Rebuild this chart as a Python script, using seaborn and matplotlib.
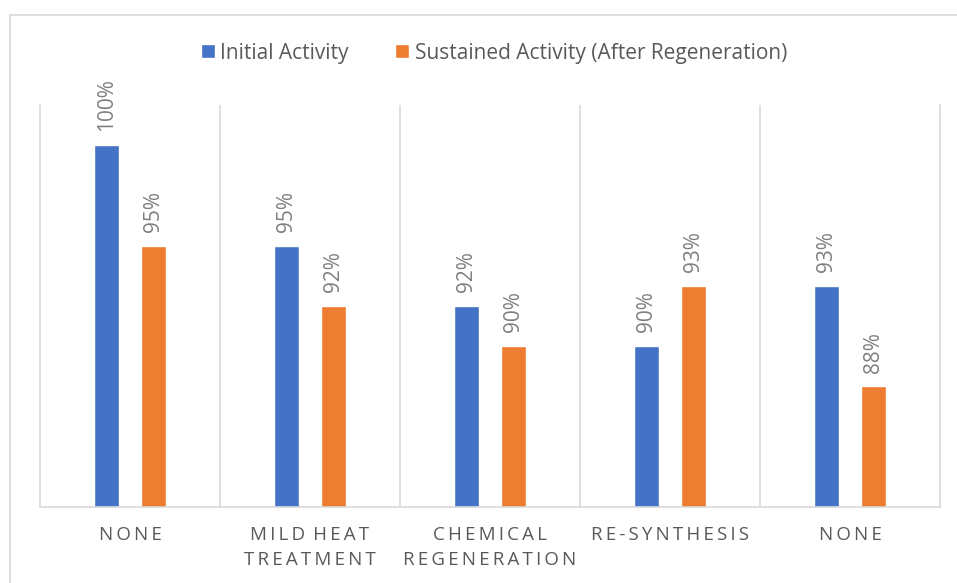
import matplotlib
matplotlib.use("Agg")
import matplotlib.pyplot as plt
from matplotlib.lines import Line2D
import pandas as pd
import seaborn as sns

# Chart data
CATEGORIES = ["None", "Mild Heat\nTreatment", "Chemical\nRegeneration", "Re-Synthesis", "None"]
INITIAL = [1.00, 0.95, 0.92, 0.90, 0.93]
SUSTAINED = [0.95, 0.92, 0.90, 0.93, 0.88]
SERIES = ["Initial Activity", "Sustained Activity (After Regeneration)"]
COLORS = ["#4472C4", "#ED7D31"]
Y_MIN, Y_MAX = 0.82, 1.02


def spaced(label):
    # Excel draws these category labels in caps with wide letter spacing
    lines = []
    for line in label.upper().split("\n"):
        words = ["\u2009".join(word) for word in line.split(" ")]
        lines.append(" \u2009".join(words))
    return "\n".join(lines)


def main():
    sns.set_theme(style="white")
    plt.rcParams["font.family"] = ["Open Sans", "DejaVu Sans"]

    # seaborn groups on x, so the two "None" groups need distinct keys
    keys = [f"c{i}" for i in range(len(CATEGORIES))]
    df = pd.DataFrame({
        "key": keys * 2,
        "series": [SERIES[0]] * len(keys) + [SERIES[1]] * len(keys),
        "value": INITIAL + SUSTAINED,
    })

    fig = plt.figure(figsize=(9.57, 5.83), dpi=100)
    ax = fig.add_axes([40 / 957, 1 - 507 / 583, 900 / 957, 402 / 583])

    sns.barplot(data=df, x="key", y="value", hue="series", order=keys,
                hue_order=SERIES, palette=COLORS, width=0.52, gap=0.465,
                saturation=1, ax=ax, legend=True)

    for container in ax.containers:
        ax.bar_label(container, fmt="{:.0%}", rotation=90, padding=10,
                     color="#7F7F7F", fontsize=15)

    ax.set_ylim(Y_MIN, Y_MAX)
    ax.set_xlim(-0.5, len(keys) - 0.5)
    ax.set_yticks([])
    ax.set_xlabel("")
    ax.set_ylabel("")
    ax.set_xticks(range(len(keys)))
    ax.set_xticklabels([spaced(c) for c in CATEGORIES], color="#595959",
                       fontsize=13.5, linespacing=1.5, va="top")
    ax.tick_params(axis="x", length=0, pad=14)

    ax.set_xticks([i + 0.5 for i in range(len(keys) - 1)], minor=True)
    ax.tick_params(axis="x", which="minor", length=0)
    ax.grid(True, axis="x", which="minor", color="#D9D9D9", linewidth=1.2)
    ax.grid(False, axis="x", which="major")
    ax.grid(False, axis="y")

    for side in ["left", "right", "bottom"]:
        ax.spines[side].set_color("#D9D9D9")
        ax.spines[side].set_linewidth(1.2)
    ax.spines["top"].set_visible(False)

    handles, labels = ax.get_legend_handles_labels()
    ax.legend(handles, labels, loc="center", bbox_to_anchor=(494 / 957, 1 - 53 / 583),
              bbox_transform=fig.transFigure, ncol=2, frameon=False, fontsize=15,
              handlelength=0.67, handleheight=0.67, handletextpad=0.25,
              columnspacing=2.25, labelcolor="#595959")

    # chart frame, only its top and left edges fall inside the picture
    fig.add_artist(Line2D([10 / 957, 10 / 957], [0, 1 - 15 / 583],
                          transform=fig.transFigure, color="#D9D9D9", linewidth=1.2))
    fig.add_artist(Line2D([10 / 957, 1], [1 - 15 / 583, 1 - 15 / 583],
                          transform=fig.transFigure, color="#D9D9D9", linewidth=1.2))

    fig.savefig("out.png", dpi=100)


if __name__ == "__main__":
    main()
